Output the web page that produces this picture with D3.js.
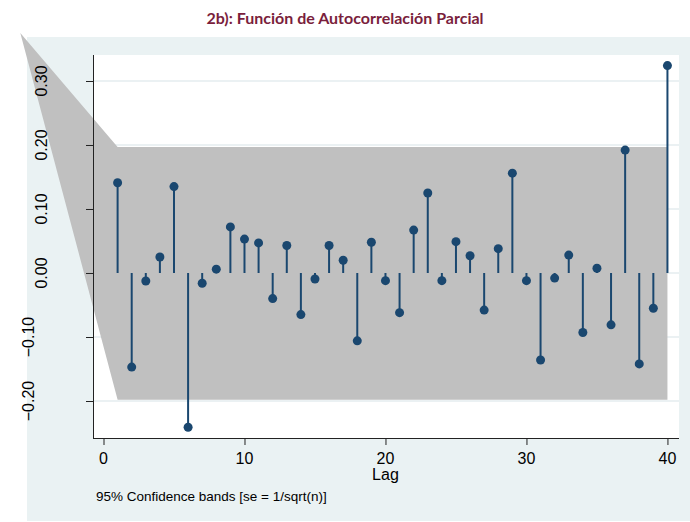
<!DOCTYPE html>
<html>
<head>
<meta charset="utf-8">
<script src="https://cdn.jsdelivr.net/npm/d3@7"></script>
<style>
  body { margin: 0; background: #ffffff; }
</style>
</head>
<body>
<script>
// partial autocorrelations, lags 1..40
var lags = d3.range(1, 41);
var pacValues = [0.141, -0.147, -0.0125, 0.025, 0.135, -0.241, -0.016, 0.006, 0.072, 0.053,
                 0.047, -0.040, 0.043, -0.065, -0.0094, 0.043, 0.020, -0.106, 0.048, -0.012,
                 -0.062, 0.067, 0.125, -0.012, 0.049, 0.027, -0.058, 0.038, 0.156, -0.012,
                 -0.136, -0.008, 0.028, -0.093, 0.0075, -0.081, 0.192, -0.142, -0.055, 0.324];

// confidence band outline (the odd first point is how the original draws it)
var bandLags = [-5.9, 1, 40];
var bandUpper = [0.375, 0.197, 0.197];
var bandLower = [0.375, -0.198, -0.198];

var yTicks = [-0.20, -0.10, 0.00, 0.10, 0.20, 0.30];
var xTicks = [0, 10, 20, 30, 40];

var svg = d3.select("body").append("svg")
            .attr("width", 690)
            .attr("height", 522);

// stata-ish background
svg.append("rect")
   .attr("x", 27).attr("y", 37)
   .attr("width", 663).attr("height", 484)
   .style("fill", "#eaf2f3");

svg.append("rect")
   .attr("x", 93).attr("y", 55)
   .attr("width", 586).attr("height", 383)
   .style("fill", "#ffffff");

var x = d3.scaleLinear().domain([-0.745, 40.82]).range([93, 679]);
var y = d3.scaleLinear().domain([-0.2578, 0.3406]).range([438, 55]);

// gridlines
svg.selectAll(".grid")
   .data(yTicks)
   .enter().append("line")
   .attr("x1", 93).attr("x2", 679)
   .attr("y1", function(d) { return y(d); })
   .attr("y2", function(d) { return y(d); })
   .style("stroke", "#e4ecef")
   .style("stroke-width", 1.5);

// band
var band = d3.area()
             .x(function(d, i) { return x(bandLags[i]); })
             .y0(function(d, i) { return y(bandLower[i]); })
             .y1(function(d, i) { return y(bandUpper[i]); });

svg.append("path")
   .datum(bandLags)
   .attr("d", band)
   .style("fill", "#c0c0c0");

// stems
svg.selectAll(".stem")
   .data(lags)
   .enter().append("line")
   .attr("x1", function(d) { return x(d); })
   .attr("x2", function(d) { return x(d); })
   .attr("y1", y(0))
   .attr("y2", function(d, i) { return y(pacValues[i]); })
   .style("stroke", "#1a476f")
   .style("stroke-width", 2);

svg.selectAll(".dot")
   .data(lags)
   .enter().append("circle")
   .attr("cx", function(d) { return x(d); })
   .attr("cy", function(d, i) { return y(pacValues[i]); })
   .attr("r", 4.5)
   .style("fill", "#1a476f");

// axes
var yAxis = svg.append("g")
               .attr("transform", "translate(93,0)")
               .call(d3.axisLeft(y).tickValues(yTicks).tickSize(7).tickFormat(""));

var xAxis = svg.append("g")
               .attr("transform", "translate(0,438)")
               .call(d3.axisBottom(x).tickValues(xTicks).tickSize(7).tickFormat(""));

svg.selectAll(".domain").style("stroke", "#222").attr("d", null);
yAxis.select(".domain").attr("d", "M0.5,55V438.5");
xAxis.select(".domain").attr("d", "M93,0.5H679");
svg.selectAll(".tick line").style("stroke", "#222");

// y tick labels, rotated
svg.selectAll(".ylab")
   .data(yTicks)
   .enter().append("text")
   .attr("transform", function(d) {
     var bx = d < 0 ? 34 : 47;
     return "translate(" + bx + "," + y(d) + ") rotate(-90)";
   })
   .attr("text-anchor", "middle")
   .style("font-family", "'Liberation Sans', Arial, sans-serif")
   .style("font-size", "16px")
   .text(function(d) { return d3.format(".2f")(d); });

svg.selectAll(".xlab")
   .data(xTicks)
   .enter().append("text")
   .attr("x", function(d) { return x(d); })
   .attr("y", 464)
   .attr("text-anchor", "middle")
   .style("font-family", "'Liberation Sans', Arial, sans-serif")
   .style("font-size", "16px")
   .text(function(d) { return d; });

svg.append("text")
   .attr("x", x(20)).attr("y", 480)
   .attr("text-anchor", "middle")
   .style("font-family", "'Liberation Sans', Arial, sans-serif")
   .style("font-size", "16px")
   .text("Lag");

svg.append("text")
   .attr("x", 96).attr("y", 501)
   .style("font-family", "'Liberation Sans', Arial, sans-serif")
   .style("font-size", "13.5px")
   .text("95% Confidence bands [se = 1/sqrt(n)]");

// title
svg.append("text")
   .attr("x", 345).attr("y", 24)
   .attr("text-anchor", "middle")
   .style("font-family", "Lato, 'Open Sans', sans-serif")
   .style("font-weight", "bold")
   .style("font-size", "16px")
   .style("fill", "#7a1e3c")
   .text("2b): Función de Autocorrelación Parcial");
</script>
</body>
</html>
